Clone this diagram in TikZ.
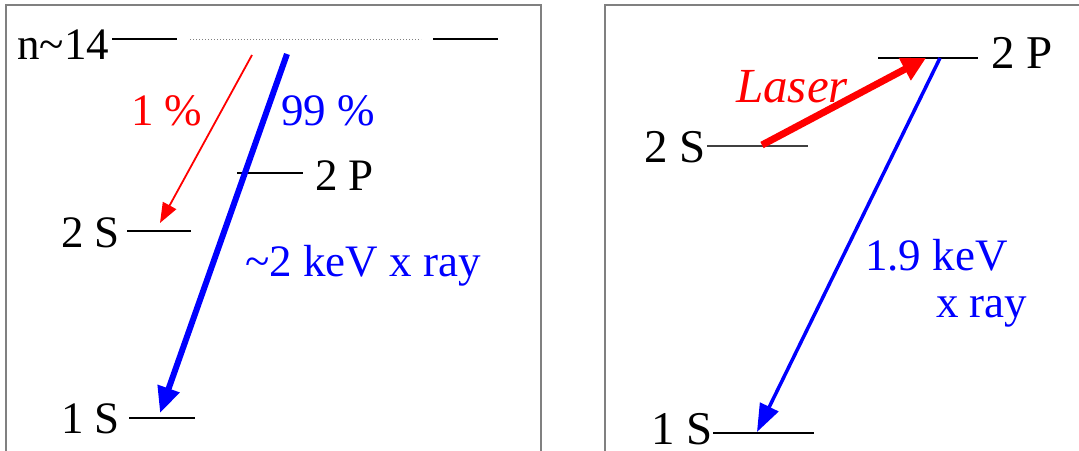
\documentclass[tikz,border=0pt]{standalone}
\usepackage{fontspec}
\setmainfont{Liberation Serif}
\usetikzlibrary{arrows.meta}
\definecolor{xblue}{RGB}{0,0,255}
\definecolor{xred}{RGB}{255,0,0}
\definecolor{frame}{RGB}{128,128,128}
\tikzset{
  lbl/.style={anchor=base west, inner sep=0pt, font=\rmfamily\fontsize{45}{54}\selectfont},
  lblb/.style={anchor=base west, inner sep=0pt, font=\rmfamily\fontsize{47}{56}\selectfont},
  level/.style={line width=1.6pt, black},
  panel/.style={draw=frame, line width=2pt},
}
\begin{document}
\begin{tikzpicture}[x=1pt,y=-1pt]
\useasboundingbox (0,0) rectangle (1079,450);
% panels
\draw[panel] (6,460) -- (6,5) -- (541,5) -- (541,460);
\draw[panel] (605,460) -- (605,5) -- (1090,5);
% ---------------- left panel
\node[lbl] (n14) at (17,59) {n\char`~14};
\draw[level] (112,39) -- (177,39);
\draw[frame, line width=1pt, dotted] (190,39) -- (421,39);
\draw[level] (433,39) -- (498,39);
\draw[level] (237,173) -- (303,173);
\node[lbl] (lp2) at (315,190) {2 P};
\draw[level] (127,231) -- (191,231);
\node[lbl] (ls2) at (61,247) {2 S};
\draw[level] (129,418) -- (195,418);
\node[lbl] (ls1) at (61,433) {1 S};
\coordinate (rA) at (252,55);
\coordinate (rB) at (160,223);
\draw[xred, line width=1.8pt, -{Triangle[length=20pt,width=15pt]}] (rA) -- (rB);
\coordinate (bA) at (287,54);
\coordinate (bB) at (160,413);
\draw[xblue, line width=6pt, -{Triangle[length=26pt,width=22pt]}] (bA) -- (bB);
\node[lbl, text=xred] (p1) at (131,125) {1 \%};
\node[lbl, text=xblue] (p99) at (281,125) {99 \%};
\node[lbl, text=xblue] (kev2) at (245,276) {\char`~2 keV x ray};
% ---------------- right panel
\draw[level] (878,58) -- (978,58);
\node[lblb] (rp2) at (991,68) {2 P};
\draw[line width=1.6pt, black!75] (707,146) -- (808,146);
\node[lblb] (rs2) at (644,162) {2 S};
\draw[level] (713,433) -- (814,433);
\node[lblb] (rs1) at (651,444) {1 S};
\coordinate (lA) at (762,145);
\coordinate (lB) at (926,58);
\draw[xred, line width=7pt, -{Triangle[length=24pt,width=24pt]}] (lA) -- (lB);
\node[lbl, text=xred, font=\rmfamily\fontsize{49}{58}\selectfont\itshape] (laser) at (736,102) {Laser};
\coordinate (xA) at (940,58);
\coordinate (xB) at (757,432);
\draw[xblue, line width=3.5pt, -{Triangle[length=28pt,width=20pt]}] (xA) -- (xB);
\node[lbl, text=xblue] (k19) at (865,270) {1.9 keV};
\node[lbl, text=xblue] (xr) at (936,317) {x ray};
\end{tikzpicture}
\end{document}
